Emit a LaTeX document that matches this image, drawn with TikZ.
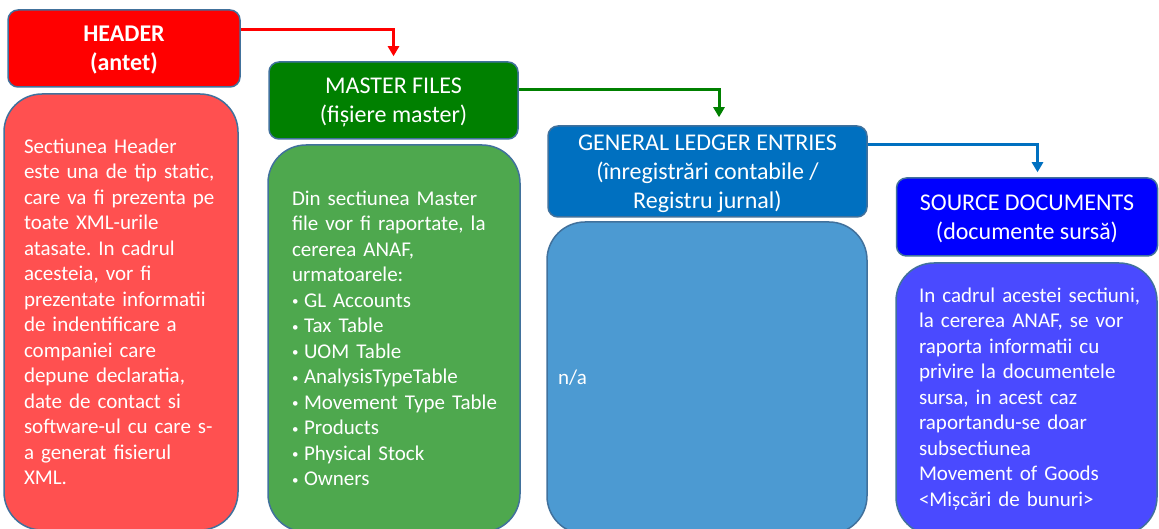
\documentclass[tikz,border=0pt]{standalone}
\usepackage{fontspec}
\setmainfont{Carlito}
\usetikzlibrary{arrows.meta}

\definecolor{edgeblue}{HTML}{41719C}
\definecolor{hdrred}{HTML}{FF0000}
\definecolor{hdrbody}{HTML}{FF5050}
\definecolor{mstgreen}{HTML}{008000}
\definecolor{mstbody}{HTML}{4EA84E}
\definecolor{glblue}{HTML}{0070C0}
\definecolor{glbody}{HTML}{4C9AD2}
\definecolor{srcblue}{HTML}{0000FF}
\definecolor{srcbody}{HTML}{4A4AFF}

\newcommand{\itm}{\makebox[12pt][l]{\raisebox{1.5pt}{\fontsize{13}{13}\selectfont •}}}
\frenchspacing
\hyphenpenalty=10000
\exhyphenpenalty=10000

\begin{document}
\begin{tikzpicture}[x=1pt,y=-1pt,
  titlebox/.style={draw=edgeblue, line width=1.5pt, rounded corners=10pt, text=white, align=center, inner sep=0pt, text depth=-4pt, font=\fontsize{24}{29}\selectfont},
  bodybox/.style={draw=edgeblue, line width=1.5pt, rounded corners=38pt, text=white, align=left, inner ysep=0pt, inner xsep=14pt, font=\fontsize{21}{25.5}\selectfont},
  textindent/.style={execute at begin node={\leftskip=#1}},
  link/.style={line width=3pt, -{Triangle[length=10pt,width=11pt]}}]
\useasboundingbox (0,0) rectangle (1159,529);
\clip (0,0) rectangle (1159,529);

% titles
\node[titlebox, fill=hdrred, minimum width=232pt, minimum height=77pt] (headtitle) at (124,48.5) {\textbf{HEADER}\\\textbf{(antet)}};
\node[titlebox, fill=mstgreen, minimum width=249pt, minimum height=77pt] (mastertitle) at (393.5,100.5) {MASTER FILES\\(fișiere master)};
\node[titlebox, fill=glblue, minimum width=319pt, minimum height=91pt] (gltitle) at (707.5,171.5) {GENERAL LEDGER ENTRIES\\(înregistrări contabile /\\Registru jurnal)};
\node[titlebox, fill=srcblue, minimum width=261pt, minimum height=78pt] (srctitle) at (1027,217) {SOURCE DOCUMENTS\\(documente sursă)};

% bodies
\node[bodybox, fill=hdrbody, text width=206pt, textindent=6pt, minimum height=436pt] (headbody) at (121,312) {Sectiunea Header\\este una de tip static,\\care va fi prezenta pe\\toate XML-urile\\atasate. In cadrul\\acesteia, vor fi\\prezentate informatii\\de indentificare a\\companiei care\\depune declaratia,\\date de contact si\\software-ul cu care s-\\a generat fisierul\\XML.};
\node[bodybox, fill=mstbody, text width=224pt, textindent=10pt, minimum height=387pt] (masterbody) at (394,338.5) {Din sectiunea Master\\file vor fi raportate, la\\cererea ANAF,\\urmatoarele:\\\itm GL Accounts\\\itm Tax Table\\\itm UOM Table\\\itm AnalysisTypeTable\\\itm Movement Type Table\\\itm Products\\\itm Physical Stock\\\itm Owners};
\node[bodybox, fill=glbody, text width=298pt, inner xsep=11pt, minimum height=312pt] (glbody) at (707,378) {n/a};
\node[bodybox, fill=srcbody, text width=233pt, textindent=9pt, minimum height=272pt] (srcbody) at (1026.5,399) {In cadrul acestei sectiuni,\\la cererea ANAF, se vor\\raporta informatii cu\\privire la documentele\\sursa, in acest caz\\raportandu-se doar\\subsectiunea\\Movement of Goods\\<Mișcări de bunuri>};

% links
\draw[link, color=hdrred] ([yshift=18.5pt]headtitle.east) -| ([yshift=5pt]mastertitle.north);
\draw[link, color=mstgreen] ([yshift=10.5pt]mastertitle.east) -| ([xshift=11.5pt,yshift=8pt]gltitle.north);
\draw[link, color=glblue] ([yshift=26.5pt]gltitle.east) -| ([xshift=10.5pt,yshift=5pt]srctitle.north);
\end{tikzpicture}
\end{document}
